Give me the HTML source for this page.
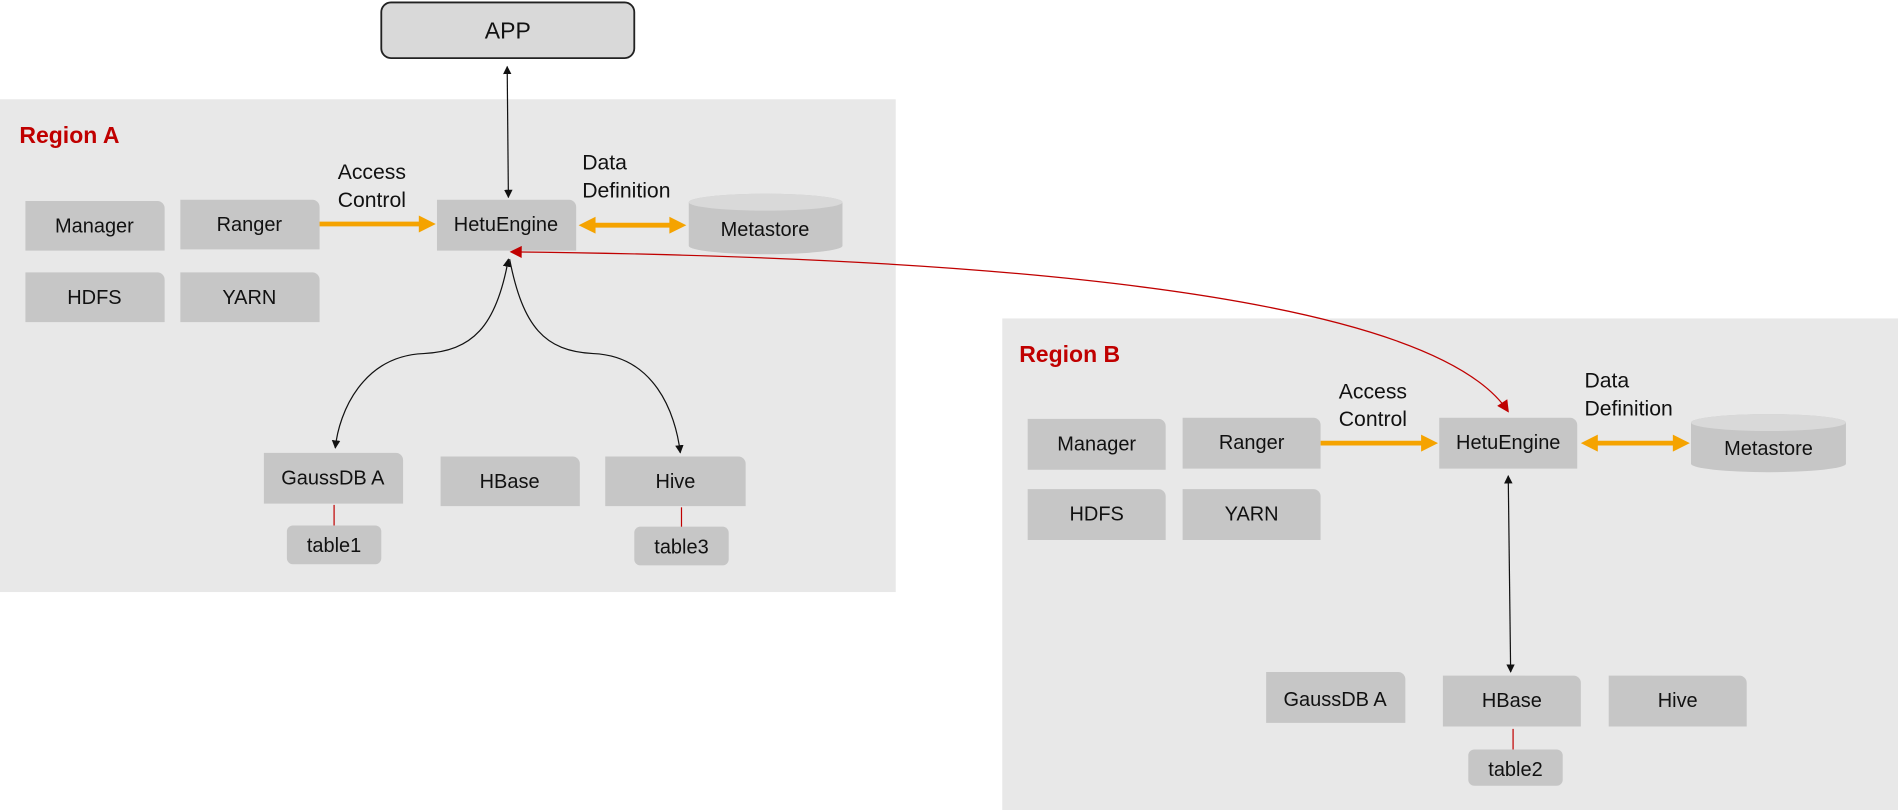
<!DOCTYPE html>
<html><head><meta charset="utf-8"><style>
html,body{margin:0;padding:0;background:#fff;}
svg{display:block}
text{font-family:"Liberation Sans",sans-serif;fill:#111;}
</style></head><body>
<svg width="1898" height="810" viewBox="0 0 1568 669" preserveAspectRatio="none" xmlns="http://www.w3.org/2000/svg">
<defs>
<marker id="ab" viewBox="0 0 10 10" refX="9" refY="5" markerWidth="7" markerHeight="9" orient="auto-start-reverse" markerUnits="userSpaceOnUse"><path d="M0,0L10,5L0,10z" fill="#111"/></marker>
<marker id="ar" viewBox="0 0 10 10" refX="9" refY="5" markerWidth="12" markerHeight="10" orient="auto-start-reverse" markerUnits="userSpaceOnUse"><path d="M0,0L10,5L0,10z" fill="#c00000"/></marker>
</defs>
<rect x="0" y="82" width="740" height="407" fill="#e8e8e8"/>
<rect x="828" y="263" width="740" height="406" fill="#e8e8e8"/>
<rect x="315" y="2" width="209" height="46" rx="8" fill="#d9d9d9" stroke="#222" stroke-width="1.5"/>
<text x="419.5" y="32" font-size="19" text-anchor="middle">APP</text>
<text x="16" y="118" font-size="19" font-weight="bold" style="fill:#c00000">Region A</text>
<text x="842" y="299" font-size="19" font-weight="bold" style="fill:#c00000">Region B</text>
<g fill="#c6c6c6">
<path d="M21,166h109a6,6 0 0 1 6,6v35h-115z"/>
<path d="M149,165h109a6,6 0 0 1 6,6v35h-115z"/>
<path d="M21,225h109a6,6 0 0 1 6,6v35h-115z"/>
<path d="M149,225h109a6,6 0 0 1 6,6v35h-115z"/>
<path d="M361,165h109a6,6 0 0 1 6,6v36h-115z"/>
<path d="M218,374h109a6,6 0 0 1 6,6v36h-115z"/>
<path d="M364,377h109a6,6 0 0 1 6,6v35h-115z"/>
<path d="M500,377h110a6,6 0 0 1 6,6v35h-116z"/>
<rect x="237" y="434" width="78" height="32" rx="5"/>
<rect x="524" y="435" width="78" height="32" rx="5"/>
<path d="M849,346h108a6,6 0 0 1 6,6v36h-114z"/>
<path d="M977,345h108a6,6 0 0 1 6,6v36h-114z"/>
<path d="M849,404h108a6,6 0 0 1 6,6v36h-114z"/>
<path d="M977,404h108a6,6 0 0 1 6,6v36h-114z"/>
<path d="M1189,345h108a6,6 0 0 1 6,6v36h-114z"/>
<path d="M1046,555h109a6,6 0 0 1 6,6v36h-115z"/>
<path d="M1192,558h108a6,6 0 0 1 6,6v36h-114z"/>
<path d="M1329,558h108a6,6 0 0 1 6,6v36h-114z"/>
<rect x="1213" y="619" width="78" height="30" rx="5"/>
<path d="M569,167a63.5,7 0 0 1 127,0v36a63.5,7 0 0 1 -127,0z"/>
<path d="M1397,349a64,7 0 0 1 128,0v34a64,7 0 0 1 -128,0z"/>
</g>
<ellipse cx="632.5" cy="167" rx="63.5" ry="7" fill="#d9d9d9"/>
<ellipse cx="1461" cy="349" rx="64" ry="7" fill="#d9d9d9"/>
<g font-size="16.5" text-anchor="middle">
<text x="78" y="192">Manager</text>
<text x="206" y="191">Ranger</text>
<text x="78" y="251">HDFS</text>
<text x="206" y="251">YARN</text>
<text x="418" y="191">HetuEngine</text>
<text x="632" y="195">Metastore</text>
<text x="275" y="400">GaussDB A</text>
<text x="421" y="403">HBase</text>
<text x="558" y="403">Hive</text>
<text x="276" y="456">table1</text>
<text x="563" y="457">table3</text>
<text x="906" y="372">Manager</text>
<text x="1034" y="371">Ranger</text>
<text x="906" y="430">HDFS</text>
<text x="1034" y="430">YARN</text>
<text x="1246" y="371">HetuEngine</text>
<text x="1461" y="376">Metastore</text>
<text x="1103" y="583">GaussDB A</text>
<text x="1249" y="584">HBase</text>
<text x="1386" y="584">Hive</text>
<text x="1252" y="641">table2</text>
</g>
<g font-size="17.5">
<text x="279" y="148">Access</text><text x="279" y="171">Control</text>
<text x="481" y="140">Data</text><text x="481" y="163">Definition</text>
<text x="1106" y="329">Access</text><text x="1106" y="352">Control</text>
<text x="1309" y="320">Data</text><text x="1309" y="343">Definition</text>
</g>
<g stroke="#f5a300" stroke-width="4" fill="none">
<line x1="264" y1="185" x2="350" y2="185"/>
<line x1="488" y1="186" x2="557" y2="186"/>
<line x1="1091" y1="366" x2="1178" y2="366"/>
<line x1="1316" y1="366" x2="1386" y2="366"/>
</g>
<g fill="#f5a300">
<path d="M346,178L360,185L346,192z"/>
<path d="M492,179L478,186L492,193z"/><path d="M553,179L567,186L553,193z"/>
<path d="M1174,359L1188,366L1174,373z"/>
<path d="M1320,359L1306,366L1320,373z"/><path d="M1382,359L1396,366L1382,373z"/>
</g>
<g stroke="#111" stroke-width="1" fill="none">
<line x1="419" y1="55" x2="420" y2="163" marker-start="url(#ab)" marker-end="url(#ab)"/>
<path d="M420,214C410,270 390,290 350,292C300,294 280,340 277,370" marker-start="url(#ab)" marker-end="url(#ab)"/>
<path d="M421,214C432,270 450,290 490,292C540,294 558,340 562,374" marker-end="url(#ab)"/>
<line x1="1246" y1="393" x2="1248" y2="555" marker-start="url(#ab)" marker-end="url(#ab)"/>
</g>
<path d="M422,208C800,212 1180,240 1246,340" stroke="#c00000" stroke-width="1" fill="none" marker-start="url(#ar)" marker-end="url(#ar)"/>
<g stroke="#c00000" stroke-width="1">
<line x1="276" y1="417" x2="276" y2="434"/>
<line x1="563" y1="419" x2="563" y2="435"/>
<line x1="1250" y1="602" x2="1250" y2="619"/>
</g>
</svg>
</body></html>
